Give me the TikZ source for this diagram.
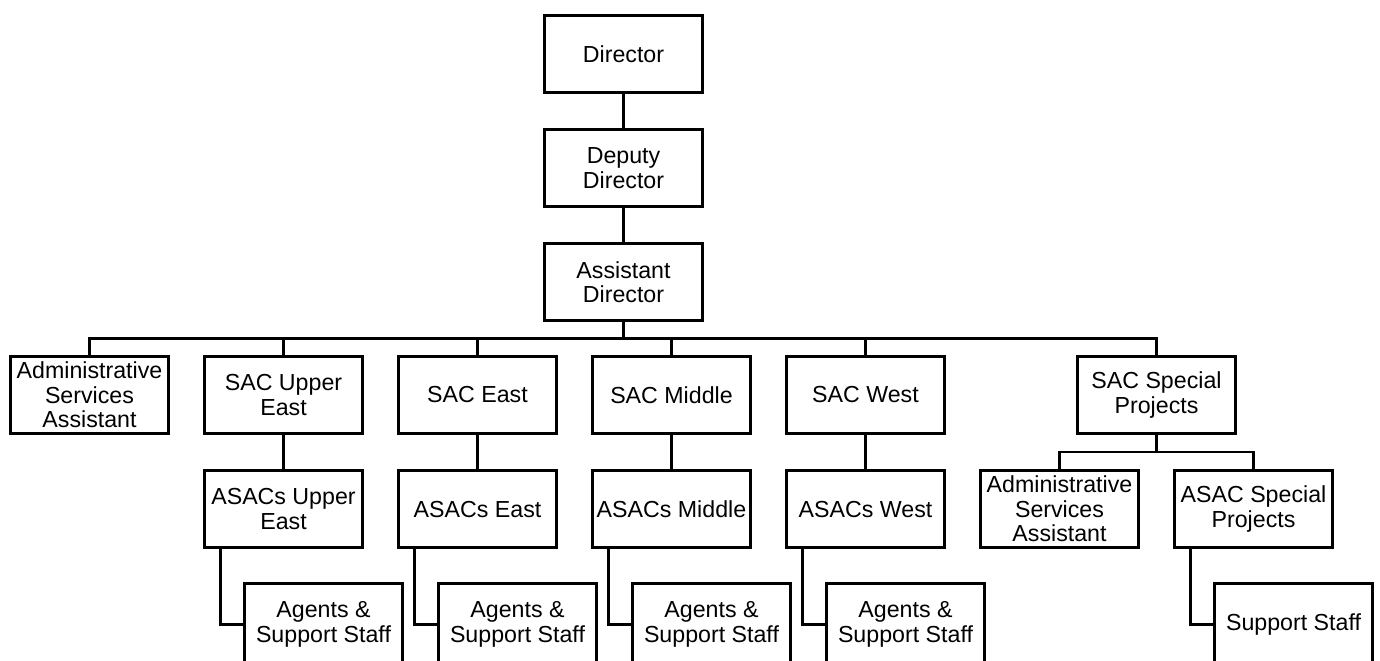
\documentclass[tikz,border=0pt]{standalone}
\usepackage{fontspec}
\setmainfont{Liberation Sans}
\usetikzlibrary{positioning, calc}
\tikzstyle{office} = [rectangle, draw=black, line width=2pt, outer sep=0pt, minimum width=3.95cm, minimum height=1.925cm, inner sep=1pt, align=center, font=\fontsize{16.5}{17.5}\selectfont]
\tikzstyle{staff} = [office, minimum height=2.05cm]
\tikzstyle{link} = [line width=2pt]

\begin{document}
\begin{tikzpicture}[node distance=0.925cm and 0.9cm]
        \useasboundingbox (0,0) rectangle (34.5,-16.5);
        % top chain
        \node (dir) [office] at (15.5875,-1.35) {Director};
        \node (dep) [office, below=of dir] {Deputy\\Director};
        \node (asst) [office, below=of dep] {Assistant\\Director};
        \draw [link] (dir) -- (dep);
        \draw [link] (dep) -- (asst);

        % first row: SACs
        \node (sacm) [office, below=0.9cm of asst, xshift=1.2cm] {SAC Middle};
        \node (sace) [office, left=of sacm] {SAC East};
        \node (sacue) [office, left=of sace] {SAC Upper\\East};
        \node (admin) [office, left=of sacue] {Administrative\\Services\\Assistant};
        \node (sacw) [office, right=of sacm] {SAC West};
        \node (sacsp) [office, right=3.325cm of sacw] {SAC Special\\Projects};
        \coordinate (bus) at ($(asst.south)!0.5!(asst.south |- sacm.north)$);
        \draw [link] (asst.south) -- (bus);
        \foreach \n in {admin, sacue, sace, sacm, sacw, sacsp}
            \draw [link] (bus) -| (\n.north);

        % second row: ASACs
        \node (asacue) [office, below=of sacue] {ASACs Upper\\East};
        \node (asace) [office, below=of sace] {ASACs East};
        \node (asacm) [office, below=of sacm] {ASACs Middle};
        \node (asacw) [office, below=of sacw] {ASACs West};
        \foreach \n in {ue, e, m, w}
            \draw [link] (sac\n) -- (asac\n);
        \node (admin2) [office, below=of sacsp, xshift=-2.425cm] {Administrative\\Services\\Assistant};
        \node (asacsp) [office, below=of sacsp, xshift=2.425cm] {ASAC Special\\Projects};
        \coordinate (spbus) at ($(sacsp.south)!0.5!(sacsp.south |- asacsp.north)$);
        \draw [link] (sacsp.south) -- (spbus);
        \draw [link] (spbus) -| (admin2.north);
        \draw [link] (spbus) -| (asacsp.north);

        % third row: staff (cut off by the page edge)
        \node (ague) [staff, below=0.9cm of asacue, xshift=1cm] {Agents \&\\Support Staff};
        \node (age) [staff, below=0.9cm of asace, xshift=1cm] {Agents \&\\Support Staff};
        \node (agm) [staff, below=0.9cm of asacm, xshift=1cm] {Agents \&\\Support Staff};
        \node (agw) [staff, below=0.9cm of asacw, xshift=1cm] {Agents \&\\Support Staff};
        \node (stsp) [staff, below=0.9cm of asacsp, xshift=1cm] {Support Staff};
        \foreach \n in {ue, e, m, w}
            \draw [link] ([xshift=0.39cm]asac\n.south west) |- (ag\n.west);
        \draw [link] ([xshift=0.39cm]asacsp.south west) |- (stsp.west);

      \end{tikzpicture}
\end{document}
